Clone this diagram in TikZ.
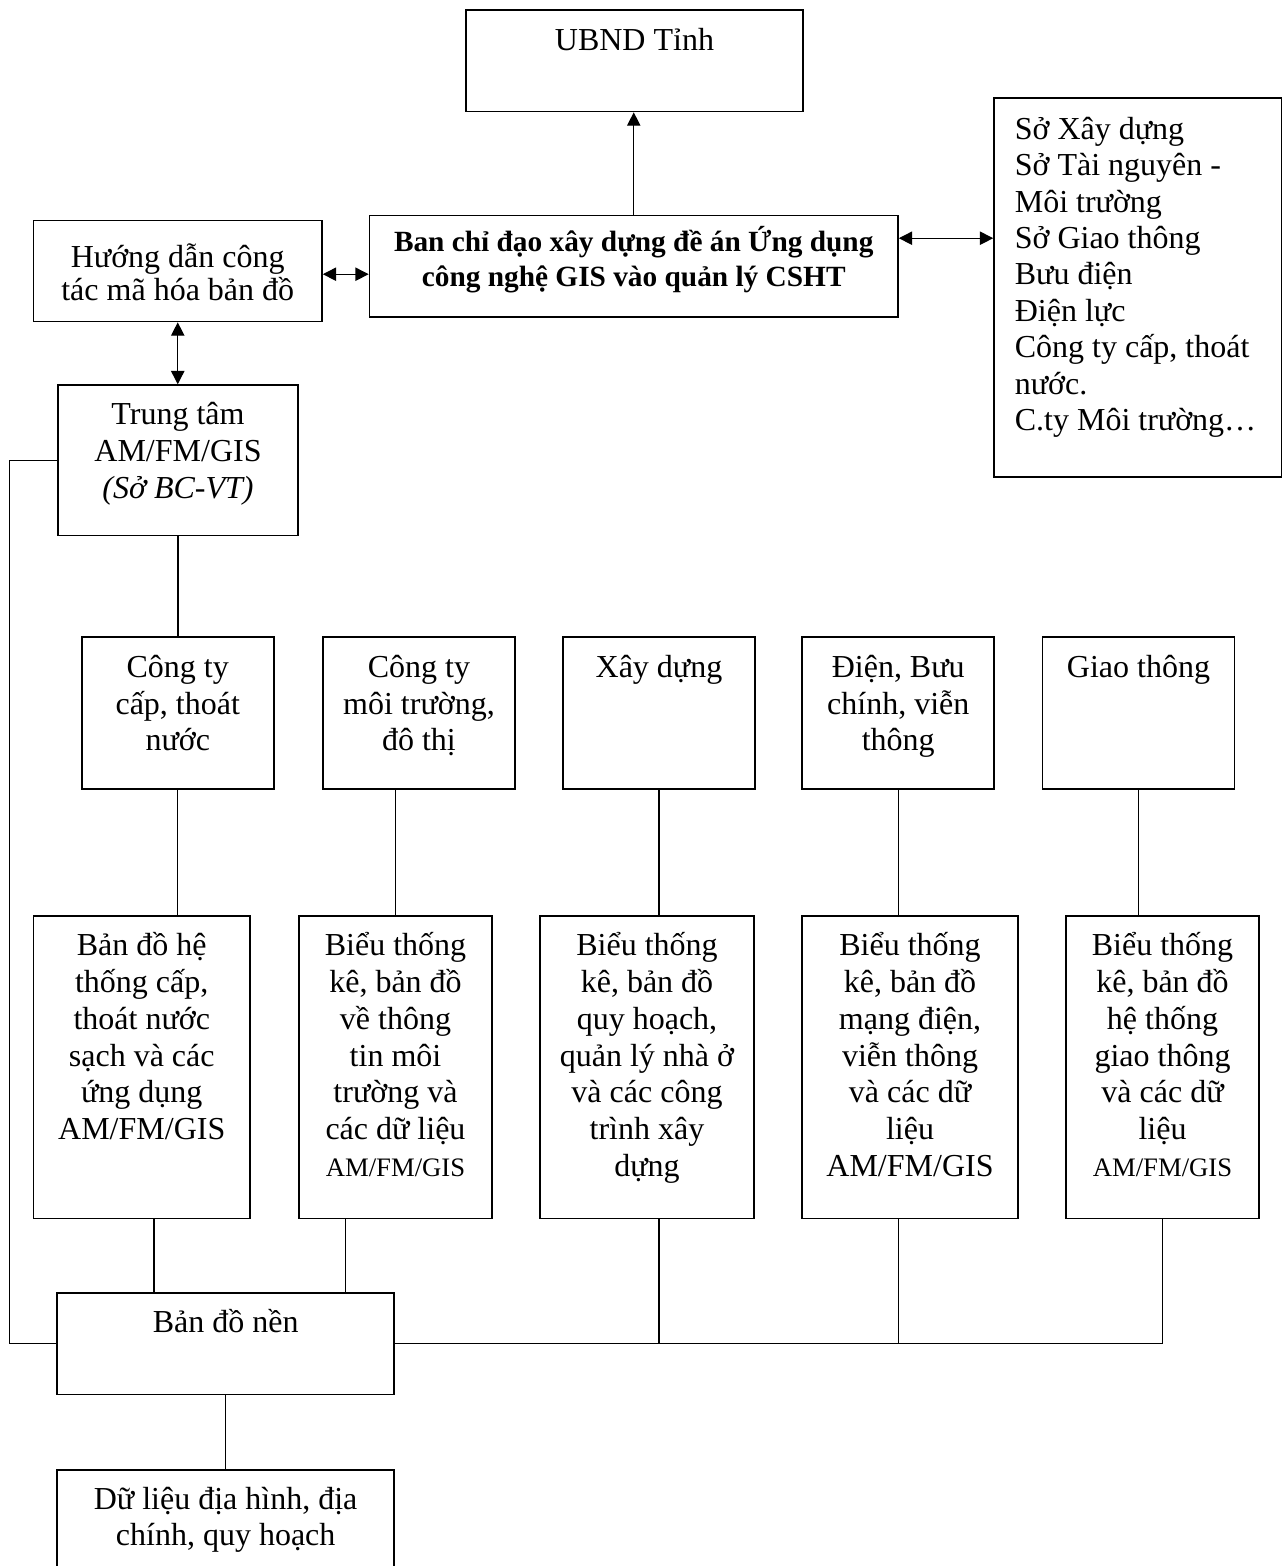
\documentclass[tikz,border=0pt]{standalone}
\usepackage{fontspec}
\setmainfont{Liberation Serif}
\usetikzlibrary{arrows.meta}
\lineskiplimit=-\maxdimen

\begin{document}
\begin{tikzpicture}[
    x=0.375pt, y=-0.375pt,
    font=\fontsize{12}{13.8}\selectfont,
    >={Triangle[length=5pt,width=5pt]},
    box/.style={draw, line width=0.6pt, inner sep=0pt},
    upbox/.style={box, minimum width=72pt, minimum height=57pt},
    lowbox/.style={box, minimum height=113.4pt},
    txt/.style={anchor=base, align=flush center, text width=120pt, inner sep=0pt},
    wire/.style={line width=0.5pt}
]
\useasboundingbox (0,0) rectangle (1282,1566);

% --- Top part ---
\node[box, minimum width=126.4pt, minimum height=38.1pt,
      label={[txt, yshift=-15.6pt]north:UBND Tỉnh}] (ubnd) at (634.5,60.75) {};
\node[box, minimum width=198.2pt, minimum height=37.9pt,
      label={[txt, text width=220pt, yshift=-13.9pt, font=\fontsize{11}{13.1}\selectfont\bfseries]north:{Ban chỉ đạo xây dựng đề án Ứng dụng\\công nghệ GIS vào quản lý CSHT}}] (ban) at (633.75,266.2) {};
\node[box, minimum width=108.2pt, minimum height=37.9pt,
      label={[txt, yshift=-18pt, font=\fontsize{12}{10.9}\selectfont]north:{Hướng dẫn công\\tác mã hóa bản đồ}}] (huong) at (177.75,271) {};
\node[box, minimum width=107.8pt, minimum height=142.1pt,
      label={[txt, anchor=base west, align=flush left, text width=105pt, xshift=7.9pt, yshift=-15.75pt, font=\fontsize{12}{13.65}\selectfont]north west:{Sở Xây dựng\\Sở Tài nguyên -\\Môi trường\\Sở Giao thông\\Bưu điện\\Điện lực\\Công ty cấp, thoát\\nước.\\C.ty Môi trường…}}] (list) at (1137.75,287.5) {};
\node[box, minimum width=90pt, minimum height=56.4pt,
      label={[txt, yshift=-15.2pt]north:{Trung tâm\\AM/FM/GIS\\\textit{(Sở BC-VT)}}}] (trung) at (178,460.25) {};

% --- Units ---
\node[upbox, label={[txt, yshift=-15.4pt]north:{Công ty\\cấp, thoát\\nước}}] (up1) at (177.75,713) {};
\node[upbox, label={[txt, yshift=-15.4pt]north:{Công ty\\môi trường,\\đô thị}}] (up2) at (419,713) {};
\node[upbox, label={[txt, yshift=-15.4pt]north:{Xây dựng}}] (up3) at (659,713) {};
\node[upbox, label={[txt, yshift=-15.4pt]north:{Điện, Bưu\\chính, viễn\\thông}}] (up4) at (898.25,713) {};
\node[upbox, label={[txt, yshift=-15.4pt]north:{Giao thông}}] (up5) at (1138.5,713) {};

% --- Data ---
\node[lowbox, minimum width=81.2pt, label={[txt, yshift=-15.2pt]north:{Bản đồ hệ\\thống cấp,\\thoát nước\\sạch và các\\ứng dụng\\AM/FM/GIS}}] (low1) at (141.75,1067.25) {};
\node[lowbox, minimum width=72.4pt, label={[txt, yshift=-15.2pt]north:{Biểu thống\\kê, bản đồ\\về thông\\tin môi\\trường và\\các dữ liệu\\{\fontsize{10}{12}\selectfont AM/FM/GIS}}}] (low2) at (395.5,1067.25) {};
\node[lowbox, minimum width=80.25pt, label={[txt, yshift=-15.2pt]north:{Biểu thống\\kê, bản đồ\\quy hoạch,\\quản lý nhà ở\\và các công\\trình xây\\dựng}}] (low3) at (647,1067.25) {};
\node[lowbox, minimum width=81pt, label={[txt, yshift=-15.2pt]north:{Biểu thống\\kê, bản đồ\\mạng điện,\\viễn thông\\và các dữ\\liệu\\AM/FM/GIS}}] (low4) at (910,1067.25) {};
\node[lowbox, minimum width=72.4pt, label={[txt, yshift=-15.2pt]north:{Biểu thống\\kê, bản đồ\\hệ thống\\giao thông\\và các dữ\\liệu\\{\fontsize{10}{12}\selectfont AM/FM/GIS}}}] (low5) at (1162.5,1067.25) {};

% --- Bottom part ---
\node[box, minimum width=126.3pt, minimum height=37.9pt,
      label={[txt, yshift=-15pt]north:Bản đồ nền}] (nen) at (225.65,1343.8) {};
\node[box, minimum width=126.3pt, minimum height=37.9pt,
      label={[txt, yshift=-15pt]north:{Dữ liệu địa hình, địa\\chính, quy hoạch}}] (dulieu) at (225.65,1520.5) {};

% Edges
\draw[wire, ->] (ban.north) -- (ban.north |- ubnd.south);
\draw[wire, <->] ([yshift=10.5pt]ban.east) -- ([yshift=10.5pt]ban.east -| list.west);
\draw[wire, <->] ([yshift=-1.2pt]huong.east) -- ([yshift=-1.2pt]huong.east -| ban.west);
\draw[wire, <->] (huong.south) -- (huong.south |- trung.north);
\draw[wire] (trung.west) -- ++(-48,0) |- (nen.west);
\draw[wire] (trung.south) -- (trung.south |- up1.north);

% Units to data
\draw[wire] (up1.south) -- (up1.south |- low1.north);
\draw[wire] (low2.north |- up2.south) -- (low2.north);
\draw[wire] (up3.south) -- (up3.south |- low3.north);
\draw[wire] (up4.south) -- (up4.south |- low4.north);
\draw[wire] (up5.south) -- (up5.south |- low5.north);

% Data to base map
\draw[wire] ([xshift=4.6pt]low1.south) -- ([xshift=4.6pt]low1.south |- nen.north);
\draw[wire] ([xshift=-18.7pt]low2.south) -- ([xshift=-18.7pt]low2.south |- nen.north);
\draw[wire] (up3.south |- low3.south) -- (up3.south |- nen.east);
\draw[wire] (up4.south |- low4.south) -- (up4.south |- nen.east);
\draw[wire] (low5.south) -- (low5.south |- nen.east);
\draw[wire] (nen.east) -- (nen.east -| low5.south);
\draw[wire] (nen.south) -- (dulieu.north);

\end{tikzpicture}
\end{document}
